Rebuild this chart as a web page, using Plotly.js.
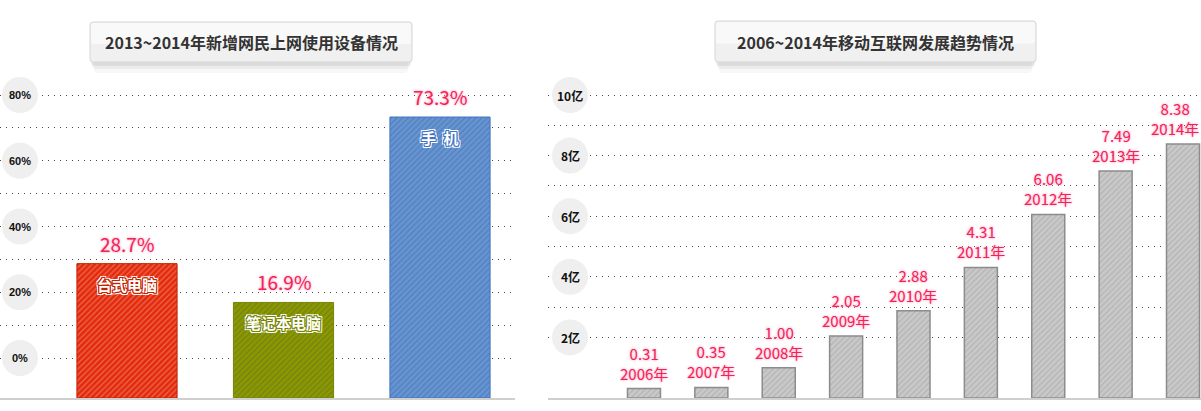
<!DOCTYPE html>
<html>
<head>
<meta charset="utf-8">
<script src="https://cdn.plot.ly/plotly-3.0.1.min.js"></script>
<style>
  html, body { margin: 0; padding: 0; background: #fff; }
  #chart { width: 1201px; height: 411px; }
</style>
</head>
<body>
<div id="chart"></div>
<script>
// ---- data ----
const deviceTitle = '2013~2014年新增网民上网使用设备情况';
const deviceNames = ['台式电脑', '笔记本电脑', '手\u2002机'];
const deviceShares = [28.7, 16.9, 73.3];            // %
const deviceColors = ['#e32a0a', '#8a9900', '#6395d9'];
const deviceHatch = ['#b81c00', '#718000', '#4f80c8'];
const deviceEdges = ['#c22000', '#778400', '#3f73c2'];
const shareTicks = [0, 20, 40, 60, 80];
const shareTickText = ['0%', '20%', '40%', '60%', '80%'];
const shareGrid = [0, 10, 20, 30, 40, 50, 60, 70, 80];

const mobileTitle = '2006~2014年移动互联网发展趋势情况';
const mobileYears = ['2006', '2007', '2008', '2009', '2010', '2011', '2012', '2013', '2014'];
const mobileUsers = [0.31, 0.35, 1.00, 2.05, 2.88, 4.31, 6.06, 7.49, 8.38];   // 亿
const userTicks = [2, 4, 6, 8, 10];
const userTickText = ['2亿', '4亿', '6亿', '8亿', '10亿'];
const userGrid = [2, 3, 4, 5, 6, 7, 8, 9, 10];

// ---- geometry helpers (pixel -> paper) ----
const W = 1201, H = 411;
const px = x => x / W;
const py = y => 1 - y / H;
const plotBottom = 398;                  // pixel row of the category axis
const yDomain = [(H - plotBottom) / H, 1];

// left panel: 0% sits 40px above the axis line, 3.2875 px per percent
const shareScale = 3.2875;
const shareMin = -40 / shareScale;
const shareMax = shareMin + plotBottom / shareScale;
// right panel: starts at zero on the axis line
const userScale = 30.3;
const userMax = plotBottom / userScale;

const CJK = '"Noto Sans CJK SC", "Noto Sans", sans-serif';
const pink = '#f2225a';
const pinkGlow = '0 0 3px #ffb0c6, 0 0 2px #ffc2d3';

function roundRect(x0, y0, x1, y1, r) {
  const P = (x, y) => px(x) + ',' + py(y);
  return 'M' + P(x0 + r, y0) + ' L' + P(x1 - r, y0) + ' Q' + P(x1, y0) + ' ' + P(x1, y0 + r) +
    ' L' + P(x1, y1 - r) + ' Q' + P(x1, y1) + ' ' + P(x1 - r, y1) +
    ' L' + P(x0 + r, y1) + ' Q' + P(x0, y1) + ' ' + P(x0, y1 - r) +
    ' L' + P(x0, y0 + r) + ' Q' + P(x0, y0) + ' ' + P(x0 + r, y0) + ' Z';
}

// white lettering with a thin coloured rim and a white halo
function haloShadow(rim) {
  const ring = (d, c, b) => [[d, 0], [-d, 0], [0, d], [0, -d], [d, d], [-d, -d], [d, -d], [-d, d]]
    .map(([a, bb]) => a + 'px ' + bb + 'px ' + b + 'px ' + c).join(', ');
  return ring(1, rim, 0) + ', ' + ring(2, '#fff', 0.5);
}

// ---- traces ----
const deviceTrace = {
  type: 'bar',
  x: deviceNames,
  base: deviceShares.map(() => shareMin),
  y: deviceShares.map(v => v - shareMin),
  width: 0.64,
  marker: {
    color: deviceColors,
    opacity: 1,
    line: { color: deviceEdges, width: 1 },
    pattern: { shape: '/', fillmode: 'overlay', fgcolor: deviceHatch, fgopacity: 0.3, size: 4, solidity: 0.3 }
  },
  xaxis: 'x', yaxis: 'y',
  hoverinfo: 'skip'
};

const mobileTrace = {
  type: 'bar',
  x: mobileYears,
  y: mobileUsers,
  width: 0.49,
  marker: {
    color: '#c9c9c9',
    opacity: 1,
    line: { color: '#8c8c8c', width: 1.5 },
    pattern: { shape: '/', fillmode: 'overlay', fgcolor: '#a9a9a9', fgopacity: 0.7, size: 4, solidity: 0.3 }
  },
  xaxis: 'x2', yaxis: 'y2',
  hoverinfo: 'skip'
};

// ---- shapes ----
const shapes = [];
function titleBox(x0, y0, x1, y1) {
  [[4, 8, 11, 0.03], [2, 5, 7, 0.045], [1, 3, 4, 0.065]].forEach(([ins, dt, db, a]) => {
    shapes.push({ type: 'path', xref: 'paper', yref: 'paper', path: roundRect(x0 + ins, y0 + dt, x1 - ins, y1 + db, 4),
      fillcolor: 'rgba(0,0,0,' + a + ')', line: { width: 0 } });
  });
  shapes.push({ type: 'path', xref: 'paper', yref: 'paper', path: roundRect(x0, y0, x1, y1, 3),
    fillcolor: '#f0f0f0', line: { color: '#d6d6d6', width: 1 } });
  shapes.push({ type: 'path', xref: 'paper', yref: 'paper', path: roundRect(x0 + 1, y0 + 1, x1 - 1, y0 + (y1 - y0) * 0.55, 2),
    fillcolor: '#f9f9f9', line: { width: 0 } });
}
titleBox(90, 22, 412, 62);
titleBox(715, 21, 1036, 62);

function tickBadges(ticks, yref, cx) {
  ticks.forEach(t => {
    shapes.push({ type: 'circle', xref: 'paper', yref: yref, xsizemode: 'pixel', ysizemode: 'pixel',
      xanchor: px(cx), yanchor: t, x0: -18, x1: 18, y0: -18, y1: 18,
      fillcolor: '#efefef', line: { width: 0 }, layer: 'above' });
  });
}
tickBadges(shareTicks, 'y', 20);
tickBadges(userTicks, 'y2', 570);

// ---- annotations ----
const annotations = [];
const centered = { xanchor: 'center', yanchor: 'middle', showarrow: false };
annotations.push(Object.assign({ xref: 'paper', yref: 'paper', x: px(251), y: py(42), text: deviceTitle,
  font: { family: CJK, size: 16, color: '#333', weight: 'bold' } }, centered));
annotations.push(Object.assign({ xref: 'paper', yref: 'paper', x: px(875), y: py(42), text: mobileTitle,
  font: { family: CJK, size: 16, color: '#333', weight: 'bold' } }, centered));

shareTicks.forEach((t, i) => annotations.push(Object.assign({ xref: 'paper', yref: 'y', x: px(20), y: t,
  text: shareTickText[i], font: { family: '"Liberation Sans", Arial, sans-serif', size: 11, color: '#111', weight: 'bold' } }, centered)));
userTicks.forEach((t, i) => annotations.push(Object.assign({ xref: 'paper', yref: 'y2', x: px(570), y: t,
  text: userTickText[i], font: { family: CJK, size: 12, color: '#111', weight: 'bold' } }, centered)));

deviceNames.forEach((name, i) => {
  annotations.push({ xref: 'x', yref: 'y', x: i, y: deviceShares[i], xanchor: 'center', yanchor: 'bottom', yshift: 5,
    text: deviceShares[i].toFixed(1) + '%', showarrow: false,
    font: { family: CJK, size: 19, color: pink, shadow: pinkGlow } });
  annotations.push({ xref: 'x', yref: 'y', x: i, y: deviceShares[i], xanchor: 'center', yanchor: 'top', yshift: -8,
    text: name, showarrow: false,
    font: { family: CJK, size: 15, color: '#fff', weight: 'bold', shadow: haloShadow(deviceEdges[i]) } });
});

mobileYears.forEach((yr, i) => {
  const last = i === mobileYears.length - 1;
  annotations.push({ xref: 'x2', yref: 'y2', x: i, y: mobileUsers[i], xanchor: 'center', yanchor: 'bottom', yshift: 3,
    xshift: last ? -8 : 0,
    text: mobileUsers[i].toFixed(2) + '<br>' + yr + '年', showarrow: false,
    font: { family: CJK, size: 15, color: pink, shadow: pinkGlow } });
});

// ---- axes ----
const gridStyle = { showgrid: true, gridcolor: '#4a4a4a', gridwidth: 1, griddash: '1px,5px',
  zeroline: false, showticklabels: false, ticks: '', showline: false, fixedrange: true };
const catStyle = { type: 'category', showgrid: false, zeroline: false, showticklabels: false, ticks: '',
  showline: true, linecolor: '#cfcfcf', linewidth: 2, fixedrange: true };

const layout = {
  width: W, height: H,
  margin: { l: 0, r: 0, t: 0, b: 0, pad: 0 },
  paper_bgcolor: '#fff', plot_bgcolor: 'rgba(0,0,0,0)',
  showlegend: false,
  barmode: 'group',
  xaxis: Object.assign({}, catStyle, { domain: [0, px(515)], anchor: 'y',
    range: [-127 / 156.5, 2 + 75 / 156.5] }),
  yaxis: Object.assign({}, gridStyle, { domain: yDomain, anchor: 'x', range: [shareMin, shareMax],
    tickmode: 'array', tickvals: shareGrid }),
  xaxis2: Object.assign({}, catStyle, { domain: [px(548), 1], anchor: 'y2',
    range: [(548 - 644) / 67.4, 8 + 18 / 67.4] }),
  yaxis2: Object.assign({}, gridStyle, { domain: yDomain, anchor: 'x2', range: [0, userMax],
    tickmode: 'array', tickvals: userGrid }),
  shapes: shapes,
  annotations: annotations
};

Plotly.newPlot('chart', [deviceTrace, mobileTrace], layout, { displayModeBar: false, staticPlot: true });
</script>
</body>
</html>
